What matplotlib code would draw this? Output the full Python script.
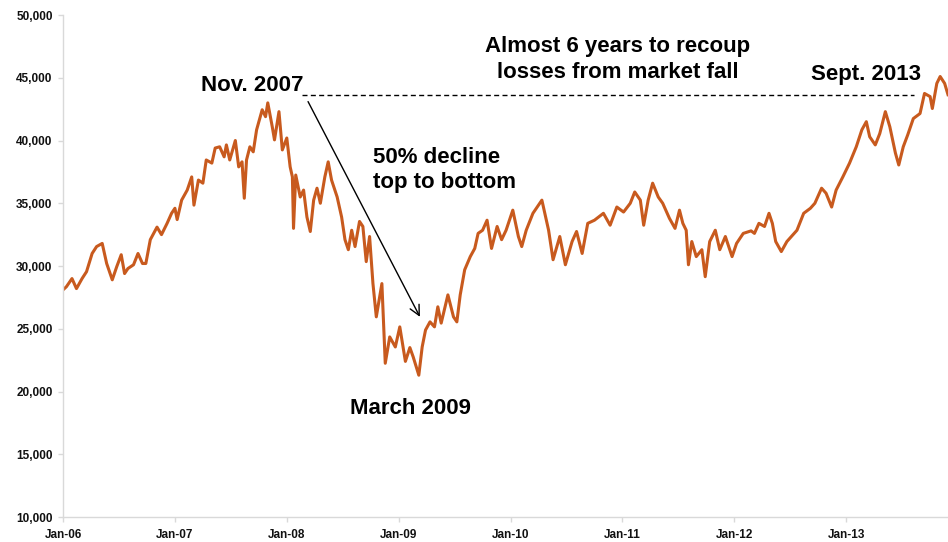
import matplotlib
matplotlib.use("Agg")
import matplotlib.pyplot as plt
from matplotlib.ticker import FuncFormatter

plt.rcParams['font.family'] = ['Liberation Sans', 'DejaVu Sans']

# index level (x in fractional years)
years = [
    2006.00, 2006.03, 2006.08, 2006.12, 2006.17, 2006.21, 2006.26, 2006.30, 2006.35, 2006.39,
    2006.44, 2006.48, 2006.52, 2006.55, 2006.58, 2006.63, 2006.67, 2006.71, 2006.74, 2006.78,
    2006.84, 2006.88, 2006.93, 2006.97, 2007.00, 2007.02, 2007.06, 2007.11, 2007.15, 2007.17,
    2007.21, 2007.25, 2007.28, 2007.33, 2007.36, 2007.40, 2007.44, 2007.46, 2007.49, 2007.54,
    2007.57, 2007.60, 2007.62, 2007.64, 2007.67, 2007.70, 2007.73, 2007.78, 2007.81, 2007.83,
    2007.87, 2007.89, 2007.93, 2007.96, 2008.00, 2008.03, 2008.05, 2008.06, 2008.08, 2008.12,
    2008.15, 2008.18, 2008.21, 2008.24, 2008.27, 2008.30, 2008.34, 2008.37, 2008.40, 2008.45,
    2008.49, 2008.52, 2008.55, 2008.58, 2008.61, 2008.65, 2008.68, 2008.71, 2008.74, 2008.77,
    2008.80, 2008.85, 2008.88, 2008.92, 2008.97, 2009.01, 2009.06, 2009.10, 2009.13, 2009.18,
    2009.21, 2009.24, 2009.28, 2009.32, 2009.35, 2009.38, 2009.44, 2009.49, 2009.52, 2009.55,
    2009.59, 2009.64, 2009.68, 2009.71, 2009.75, 2009.79, 2009.83, 2009.88, 2009.92, 2009.96,
    2010.02, 2010.07, 2010.10, 2010.14, 2010.20, 2010.28, 2010.34, 2010.38, 2010.44, 2010.49,
    2010.55, 2010.59, 2010.64, 2010.69, 2010.75, 2010.83, 2010.89, 2010.95, 2011.01, 2011.07,
    2011.11, 2011.16, 2011.19, 2011.23, 2011.27, 2011.32, 2011.36, 2011.42, 2011.47, 2011.51,
    2011.54, 2011.57, 2011.59, 2011.62, 2011.66, 2011.71, 2011.74, 2011.78, 2011.83, 2011.87,
    2011.92, 2011.98, 2012.02, 2012.08, 2012.15, 2012.18, 2012.22, 2012.27, 2012.31, 2012.34,
    2012.37, 2012.42, 2012.47, 2012.51, 2012.56, 2012.62, 2012.68, 2012.72, 2012.78, 2012.82,
    2012.87, 2012.91, 2012.97, 2013.03, 2013.09, 2013.14, 2013.18, 2013.21, 2013.26, 2013.30,
    2013.35, 2013.39, 2013.44, 2013.47, 2013.51, 2013.55, 2013.60, 2013.66, 2013.70, 2013.75,
    2013.77, 2013.81, 2013.84, 2013.88, 2013.91,
]
index_level = [
    28100, 28350, 29000, 28200, 29000, 29550, 31000, 31550, 31800, 30200,
    28900, 29950, 30900, 29400, 29800, 30100, 31000, 30200, 30200, 32100,
    33100, 32500, 33400, 34200, 34600, 33700, 35250, 36050, 37100, 34850,
    36850, 36600, 38450, 38200, 39400, 39500, 38700, 39650, 38450, 40000,
    37900, 38300, 35400, 38450, 39500, 39100, 40850, 42450, 41900, 43000,
    41100, 40050, 42300, 39250, 40200, 37900, 37100, 33000, 37250, 35500,
    36050, 33900, 32750, 35250, 36200, 35000, 37100, 38300, 36850, 35500,
    33900, 32100, 31300, 32850, 31550, 33550, 33150, 30350, 32350, 28600,
    25950, 28600, 22250, 24350, 23550, 25150, 22400, 23500, 22750, 21300,
    23550, 24900, 25550, 25150, 26750, 25450, 27700, 25950, 25550, 27700,
    29700, 30750, 31400, 32600, 32850, 33650, 31400, 33150, 32100, 32850,
    34450, 32350, 31550, 32850, 34200, 35250, 32850, 30500, 32350, 30100,
    31950, 32750, 31000, 33400, 33650, 34200, 33250, 34700, 34300, 35000,
    35900, 35250, 33250, 35250, 36600, 35500, 35000, 33800, 33000, 34450,
    33400, 32850, 30100, 31950, 30750, 31300, 29150, 31950, 32850, 31300,
    32350, 30750, 31800, 32600, 32800, 32600, 33400, 33150, 34200, 33400,
    31950, 31150, 31950, 32350, 32850, 34200, 34600, 35000, 36200, 35800,
    34700, 36050, 37100, 38200, 39500, 40850, 41500, 40300, 39650, 40550,
    42300, 41100, 39000, 38050, 39500, 40450, 41750, 42150, 43750, 43500,
    42550, 44550, 45100, 44550, 43650,
]

tick_years = [2006, 2007, 2008, 2009, 2010, 2011, 2012, 2013]
tick_labels = ['Jan-06', 'Jan-07', 'Jan-08', 'Jan-09', 'Jan-10', 'Jan-11', 'Jan-12', 'Jan-13']
y_ticks = [10000, 15000, 20000, 25000, 30000, 35000, 40000, 45000, 50000]

prior_peak = 43650   # level of the dashed "recoup" line

fig = plt.figure(figsize=(9.48, 5.42), dpi=100)
ax = fig.add_axes([0.0665, 0.0461, 0.9335, 0.9262])

ax.plot(years, index_level, color='#c85a1e', lw=2.2, solid_joinstyle='round')

# dashed line from the 2007 peak to the 2013 recovery
ax.plot([2008.14, 2013.61], [prior_peak, prior_peak], color='black', lw=1,
        linestyle=(0, (3.6, 2.4)))

# arrow peak -> trough
ax.annotate('', xy=(2009.19, 25950), xytext=(2008.19, 43100),
            arrowprops=dict(arrowstyle='->', color='black', lw=1,
                            mutation_scale=18, shrinkA=0, shrinkB=0))

tkw = dict(fontsize=16, fontweight='bold', color='black')
ax.text(2007.69, 43950, 'Nov. 2007', ha='center', va='baseline', **tkw)
ax.text(2010.96, 47050, 'Almost 6 years to recoup', ha='center', va='baseline', **tkw)
ax.text(2010.96, 44980, 'losses from market fall', ha='center', va='baseline', **tkw)
ax.text(2008.77, 38200, '50% decline', ha='left', va='baseline', **tkw)
ax.text(2008.77, 36200, 'top to bottom', ha='left', va='baseline', **tkw)
ax.text(2009.11, 18200, 'March 2009', ha='center', va='baseline', **tkw)
ax.text(2013.18, 44820, 'Sept. 2013', ha='center', va='baseline', **tkw)

ax.set_xlim(2006.0, 2013.91)
ax.set_ylim(10000, 50000)
ax.set_xticks(tick_years)
ax.set_xticklabels(tick_labels)
ax.set_yticks(y_ticks)
ax.yaxis.set_major_formatter(FuncFormatter(lambda v, p: f'{int(v):,}'))

for s in ['top', 'right']:
    ax.spines[s].set_visible(False)
for s in ['left', 'bottom']:
    ax.spines[s].set_color('#d9d9d9')
    ax.spines[s].set_linewidth(1)
ax.tick_params(axis='both', color='#d9d9d9', width=1, length=3.5,
               labelsize=8.5, labelcolor='#111111')
ax.tick_params(axis='y', pad=4)
ax.tick_params(axis='x', pad=5)
for lab in ax.get_xticklabels() + ax.get_yticklabels():
    lab.set_fontweight('bold')

fig.savefig('out.png', dpi=100)
